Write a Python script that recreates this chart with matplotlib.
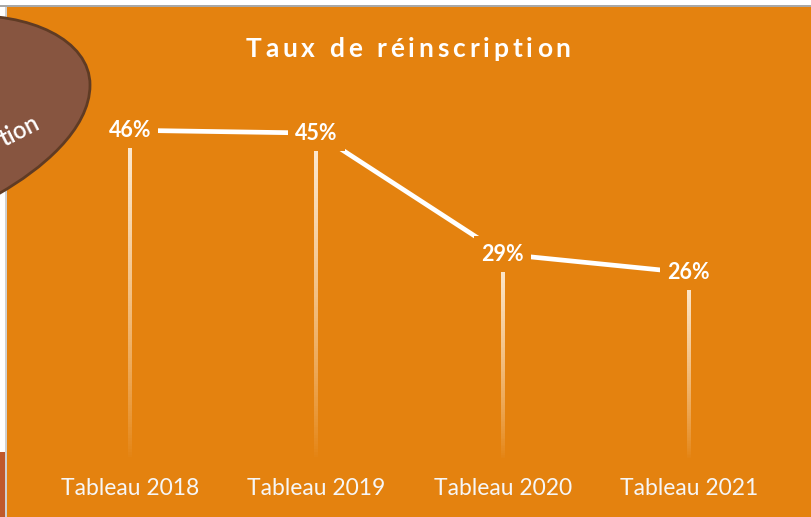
import numpy as np
import matplotlib
matplotlib.use("Agg")
import matplotlib.pyplot as plt
from matplotlib.patches import Rectangle, PathPatch
from matplotlib.path import Path
from matplotlib.collections import LineCollection

plt.rcParams['font.family'] = ['Lato', 'DejaVu Sans']

# data
categories = ["Tableau 2018", "Tableau 2019", "Tableau 2020", "Tableau 2021"]
taux = [0.458, 0.454, 0.286, 0.260]
title = "Taux de réinscription"

ORANGE = "#E4820F"
W, H = 812, 517


def px(x, y):
    # pixel coords (top-left origin) -> figure fraction
    return x / W, 1 - y / H


fig = plt.figure(figsize=(W / 100, H / 100), dpi=100)
fig.patch.set_facecolor("white")

# background frame pieces
fig.patches.append(Rectangle(px(7, 517), (W - 7) / W, 510 / H, transform=fig.transFigure,
                             facecolor=ORANGE, edgecolor="none", zorder=0))
fig.patches.append(Rectangle(px(0, 7), 1, 2 / H, transform=fig.transFigure,
                             facecolor="#A8A8A8", edgecolor="none", zorder=0))
fig.patches.append(Rectangle(px(0, 517), 5 / W, 65 / H, transform=fig.transFigure,
                             facecolor="#C0592B", edgecolor="none", zorder=0))
fig.patches.append(Rectangle(px(5, 517), 2 / W, 510 / H, transform=fig.transFigure,
                             facecolor="#D0D0D0", edgecolor="none", zorder=0))

# brown blob at top left
verts = [(-40, 16), (30, 12), (90, 40), (90, 85),
         (90, 130), (40, 170), (0, 193),
         (-60, 230), (-60, 16), (-40, 16)]
codes = [Path.MOVETO, Path.CURVE4, Path.CURVE4, Path.CURVE4,
         Path.CURVE4, Path.CURVE4, Path.CURVE4,
         Path.LINETO, Path.LINETO, Path.CLOSEPOLY]
blob = Path([px(*v) for v in verts], codes)
fig.patches.append(PathPatch(blob, transform=fig.transFigure, facecolor="#875540",
                             edgecolor="#5F3B24", lw=2, zorder=1))
fig.text(*px(41, 128), "tion", color="white", fontsize=17, fontweight="semibold",
         rotation=27, ha="right", va="baseline", rotation_mode="anchor", zorder=2)

# chart axes
ax = fig.add_axes([37 / W, 57 / H, 745 / W, 360 / H])
ax.set_zorder(5)
ax.set_facecolor("none")
x = np.arange(len(categories))
ax.set_xlim(-0.5, len(categories) - 0.5)
ax.set_ylim(0, 0.5)

# drop lines with fading gradient
n = 120
for xi, v in zip(x, taux):
    ys = np.linspace(v, 0, n + 1)
    segs = [[(xi, ys[k]), (xi, ys[k + 1])] for k in range(n)]
    alphas = np.linspace(0.95, 0.0, n) ** 0.8
    cols = [(1.0, 0.95, 0.88, a) for a in alphas]
    ax.add_collection(LineCollection(segs, colors=cols, linewidths=1.6,
                                     capstyle="butt", antialiaseds=False, zorder=2))

ax.plot(x, taux, color="white", lw=3.4, solid_capstyle="butt", zorder=3)

for xi, v in zip(x, taux):
    ax.text(xi, v, f"{v:.0%}", color="white", fontsize=15.5, fontweight="bold",
            ha="center", va="center", zorder=4,
            bbox=dict(boxstyle="square,pad=0.33", facecolor=ORANGE, edgecolor="none"))

ax.set_xticks(x)
ax.set_xticklabels(categories, color="#F6F6F6", fontsize=16.5)
ax.tick_params(axis="x", length=0, pad=13)
ax.set_yticks([])
for s in ax.spines.values():
    s.set_visible(False)

# title with letter spacing
renderer = fig.canvas.get_renderer()
tsize = 19
spacing = 3.9
probe = fig.text(0, 0, "", fontsize=tsize, fontweight="bold")
prop = probe.get_fontproperties()


def wpx(s):
    w, _, _ = renderer.get_text_width_height_descent(s, prop, ismath=False)
    return w


total = wpx(title) + spacing * (len(title) - 1)
x0 = 408 - total / 2
for i, ch in enumerate(title):
    if ch == " ":
        continue
    off = wpx(title[:i + 1]) - wpx(ch) + spacing * i
    fig.text(*px(x0 + off, 57), ch, fontsize=tsize, fontweight="bold",
             color="white", ha="left", va="baseline")

fig.savefig("out.png", dpi=100, facecolor=fig.get_facecolor())
